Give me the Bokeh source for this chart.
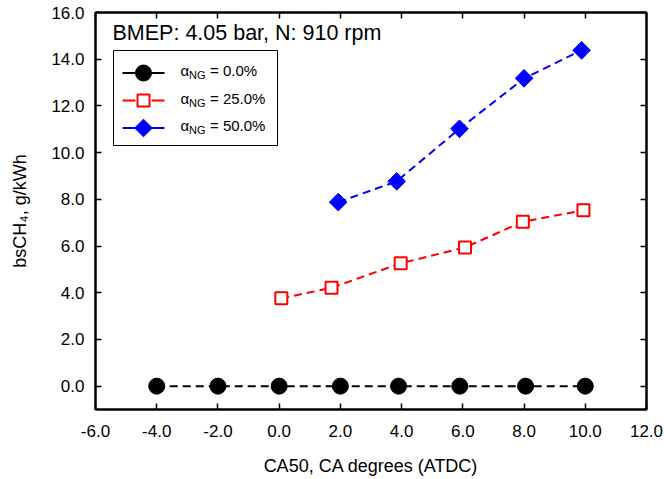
import math
from bokeh.plotting import figure
from bokeh.models import (Range1d, FixedTicker, NumeralTickFormatter, LinearAxis,
                          Label, CustomJSTickFormatter)
from bokeh.embed import file_html
from bokeh.resources import INLINE

# ---------------- data ----------------
x_ng0 = [-4.0, -2.0, 0.0, 2.0, 3.9, 5.9, 8.05, 10.0]
y_ng0 = [0.0, 0.0, 0.0, 0.0, 0.0, 0.0, 0.0, 0.0]
x_ng25 = [0.07, 1.71, 3.97, 6.07, 7.96, 9.94]
y_ng25 = [3.76, 4.21, 5.26, 5.94, 7.04, 7.53]
x_ng50 = [1.93, 3.84, 5.89, 8.0, 9.88]
y_ng50 = [7.88, 8.77, 11.02, 13.18, 14.38]

x_ticks = [-6, -4, -2, 0, 2, 4, 6, 8, 10, 12]
y_ticks = [0, 2, 4, 6, 8, 10, 12, 14, 16]
series_values = ["= 0.0%", "= 25.0%", "= 50.0%"]
title_text = "BMEP: 4.05 bar, N: 910 rpm"
x_label = "CA50, CA degrees (ATDC)"
y_label = "bsCH\u2084, g/kWh"

FONT = "Liberation Sans"
W, H = 664, 479
ML, MR, MT, MB = 95, 18, 12, 70
FW = W - ML - MR
FH = H - MT - MB
X0, X1, Y0, Y1 = -6, 12, -1, 16

p = figure(width=W, height=H, output_backend="svg", toolbar_location=None,
           x_range=Range1d(X0, X1), y_range=Range1d(Y0, Y1),
           min_border_left=ML, min_border_right=MR, min_border_top=MT,
           min_border_bottom=MB)
p.grid.visible = False
p.outline_line_color = "black"
p.outline_line_width = 2
p.background_fill_color = "white"
p.border_fill_color = "white"


def style_axis(ax, ticks, show_labels):
    ax.ticker = FixedTicker(ticks=ticks)
    ax.major_tick_in = 6
    ax.major_tick_out = 0
    ax.minor_tick_in = 0
    ax.minor_tick_out = 0
    ax.major_tick_line_width = 1.5
    ax.major_tick_line_color = "black"
    ax.axis_line_color = "black"
    ax.axis_line_width = 2
    ax.major_label_text_font = FONT
    ax.major_label_text_color = "black"
    ax.major_label_text_font_size = "17px"
    if show_labels:
        ax.formatter = NumeralTickFormatter(format="0.0")
    else:
        ax.formatter = CustomJSTickFormatter(code="return ''")
        ax.major_label_standoff = 0


xa = p.xaxis[0]
style_axis(xa, x_ticks, True)
xa.major_label_standoff = 15
xa.axis_label = x_label
xa.axis_label_text_font = FONT
xa.axis_label_text_font_size = "18px"
xa.axis_label_text_font_style = "normal"
xa.axis_label_text_color = "black"
xa.axis_label_standoff = 16

ya = p.yaxis[0]
style_axis(ya, y_ticks, True)
ya.major_label_standoff = 11
ya.axis_label = y_label
ya.axis_label_text_font = FONT
ya.axis_label_text_font_size = "18px"
ya.axis_label_text_font_style = "normal"
ya.axis_label_text_color = "black"
ya.axis_label_standoff = 18

ax_top = LinearAxis()
style_axis(ax_top, x_ticks, False)
p.add_layout(ax_top, "above")
ax_right = LinearAxis()
style_axis(ax_right, y_ticks, False)
p.add_layout(ax_right, "right")

DASH = "8 5"
RED, BLUE = "#ff0000", "#0000ff"


def dx(px):  # frame pixel offset from left -> data x
    return X0 + px / FW * (X1 - X0)


def dy(py):  # frame pixel offset from top -> data y
    return Y1 - py / FH * (Y1 - Y0)


# ---------------- legend box (drawn first, under everything) ----------------
LB_L, LB_R, LB_T, LB_B = 113 - ML, 277 - ML, 50 - MT, 145 - MT
p.quad(left=[dx(LB_L)], right=[dx(LB_R)], top=[dy(LB_T)], bottom=[dy(LB_B)],
       fill_color="white", line_color="black", line_width=1)

# ---------------- series ----------------
p.line(x_ng0, y_ng0, line_color="black", line_width=2, line_dash=DASH)
p.scatter(x_ng0, y_ng0, marker="circle", size=16, fill_color="black", line_color="black")
p.line(x_ng25, y_ng25, line_color=RED, line_width=2, line_dash=DASH)
p.scatter(x_ng25, y_ng25, marker="square", size=12, fill_color="white",
          line_color=RED, line_width=2)
p.line(x_ng50, y_ng50, line_color=BLUE, line_width=2, line_dash=DASH)
p.scatter(x_ng50, y_ng50, marker="square", size=12.5, angle=math.pi / 4,
          fill_color=BLUE, line_color=BLUE, line_width=1)

# ---------------- legend samples ----------------
row_c = [72.5 - MT, 100 - MT, 127.5 - MT]
GX0, GX1 = 122 - ML, 164 - ML
mx = dx((GX0 + GX1) / 2)
colors = ["black", RED, BLUE]
for i, c in enumerate(colors):
    p.segment(x0=[dx(GX0)], y0=[dy(row_c[i])], x1=[dx(GX1)], y1=[dy(row_c[i])],
              line_color=c, line_width=2, line_dash="13 16")
p.scatter([mx], [dy(row_c[0])], marker="circle", size=16, fill_color="black",
          line_color="black")
p.scatter([mx], [dy(row_c[1])], marker="square", size=12, fill_color="white",
          line_color=RED, line_width=2)
p.scatter([mx], [dy(row_c[2])], marker="square", size=12.5, angle=math.pi / 4,
          fill_color=BLUE, line_color=BLUE, line_width=1)

SHIFT = 7  # empirical baseline correction
for i, txt in enumerate(series_values):
    base = FH - (row_c[i] + 4.5) + SHIFT
    p.add_layout(Label(x=180 - ML, y=base, x_units="screen", y_units="screen",
                       text="\u03b1", text_font=FONT, text_font_size="15px",
                       text_color="black",
                       text_baseline="alphabetic", text_align="left"))
    p.add_layout(Label(x=188.5 - ML, y=base - 4.5, x_units="screen", y_units="screen",
                       text="NG", text_font=FONT, text_font_size="11px",
                       text_color="black",
                       text_baseline="alphabetic", text_align="left"))
    p.add_layout(Label(x=209.5 - ML, y=base, x_units="screen", y_units="screen",
                       text=txt, text_font=FONT, text_font_size="15px",
                       text_color="black",
                       text_baseline="alphabetic", text_align="left"))

# title inside frame
p.add_layout(Label(x=112 - ML, y=FH - (39.5 - MT) + SHIFT, x_units="screen",
                   y_units="screen", text=title_text, text_font=FONT,
                   text_font_size="21.5px", text_color="black",
                   text_baseline="alphabetic", text_align="left"))

open("out.html", "w").write(file_html(p, INLINE))
